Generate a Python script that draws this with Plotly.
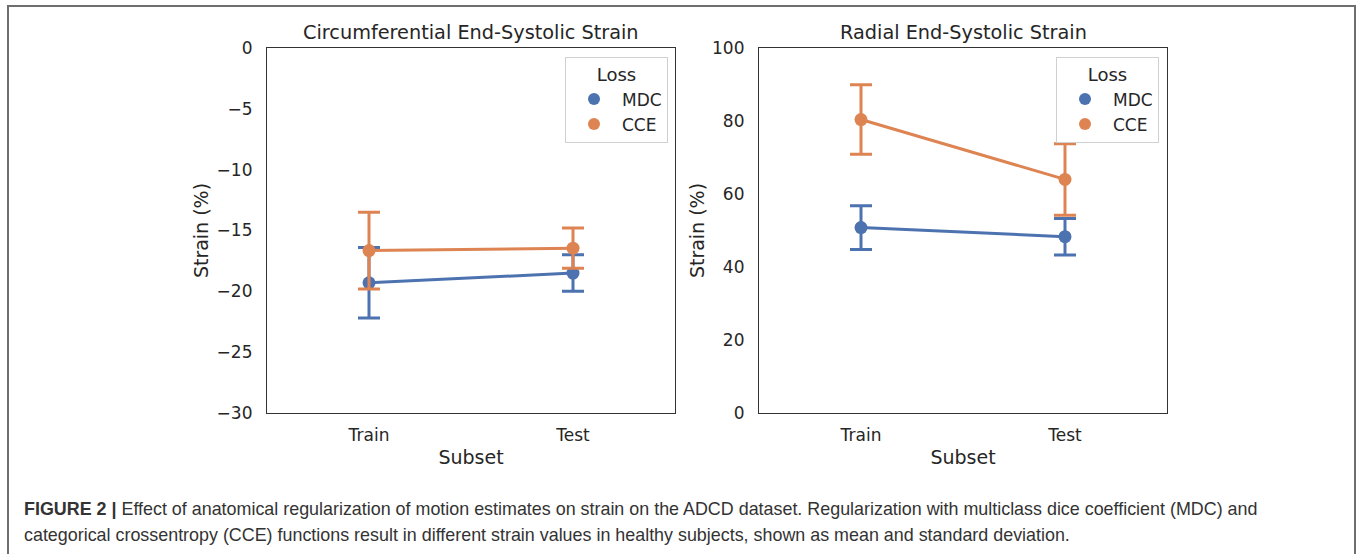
import plotly.graph_objects as go

W, H = 1357, 554

subsets = ["Train", "Test"]
losses = ["MDC", "CCE"]
colors = {"MDC": "#4C72B0", "CCE": "#DD8452"}

# Circumferential end-systolic strain (%): mean, sd
circ_mean = {"MDC": [-19.3, -18.5], "CCE": [-16.65, -16.45]}
circ_sd = {"MDC": [2.9, 1.5], "CCE": [3.15, 1.65]}

# Radial end-systolic strain (%): mean, sd
rad_mean = {"MDC": [50.8, 48.3], "CCE": [80.4, 64.0]}
rad_sd = {"MDC": [6.0, 5.0], "CCE": [9.5, 9.8]}

circ_ticks = [0, -5, -10, -15, -20, -25, -30]
rad_ticks = [0, 20, 40, 60, 80, 100]

FONT = "DejaVu Sans"
TXT = "#262626"

fig = go.Figure()

def add_panel(means, sds, xa, ya, legend):
    for loss in losses:
        fig.add_trace(go.Scatter(
            x=subsets, y=means[loss], mode="lines+markers",
            line=dict(color=colors[loss], width=3),
            marker=dict(color=colors[loss], size=13),
            error_y=dict(type="data", array=sds[loss], visible=True,
                         color=colors[loss], thickness=3, width=11),
            xaxis=xa, yaxis=ya, showlegend=False, hoverinfo="skip"))
    for loss in losses:
        fig.add_trace(go.Scatter(
            x=[None], y=[None], mode="markers", name=loss,
            marker=dict(color=colors[loss], size=13),
            xaxis=xa, yaxis=ya, legend=legend, showlegend=True))

add_panel(circ_mean, circ_sd, "x", "y", "legend")
add_panel(rad_mean, rad_sd, "x2", "y2", "legend2")

y0, y1 = 1 - 413 / H, 1 - 48 / H
axis_common = dict(showline=True, linecolor="#333333", linewidth=1.25, mirror=True,
                   showgrid=False, zeroline=False, ticks="", automargin=False,
                   tickfont=dict(family=FONT, size=17, color=TXT),
                   title_font=dict(family=FONT, size=19, color=TXT))

def legend_cfg(xr):
    return dict(x=xr / W, y=1 - 57 / H, xanchor="right", yanchor="top",
                bgcolor="white", bordercolor="#d0d0d0", borderwidth=1,
                font=dict(family=FONT, size=17, color=TXT),
                title=dict(text="Loss", side="top center",
                           font=dict(family=FONT, size=18, color=TXT)),
                itemsizing="constant", itemwidth=46, tracegroupgap=3)

fig.update_layout(
    width=W, height=H,
    margin=dict(l=0, r=0, t=0, b=0, autoexpand=False),
    paper_bgcolor="white", plot_bgcolor="white",
    xaxis=dict(domain=[267 / W, 675 / W], anchor="y", type="category",
               range=[-0.5, 1.5], ticklabelstandoff=6,
               title=dict(text="Subset", standoff=7), **axis_common),
    yaxis=dict(domain=[y0, y1], anchor="x", range=[-30, 0], tickvals=circ_ticks,
               ticklabelstandoff=10,
               title=dict(text="Strain (%)", standoff=2), **axis_common),
    xaxis2=dict(domain=[759 / W, 1167 / W], anchor="y2", type="category",
                range=[-0.5, 1.5], ticklabelstandoff=6,
                title=dict(text="Subset", standoff=7), **axis_common),
    yaxis2=dict(domain=[y0, y1], anchor="x2", range=[0, 100], tickvals=rad_ticks,
                ticklabelstandoff=10,
                title=dict(text="Strain (%)", standoff=2), **axis_common),
    legend=legend_cfg(668),
    legend2=legend_cfg(1159),
)

# panel titles
for xc, t in [((267 + 675) / 2 / W, "Circumferential End-Systolic Strain"),
              ((759 + 1167) / 2 / W, "Radial End-Systolic Strain")]:
    fig.add_annotation(x=xc, y=1 - 33 / H, xref="paper", yref="paper",
                       text=t, showarrow=False, xanchor="center", yanchor="middle",
                       font=dict(family=FONT, size=19.3, color=TXT))

# caption
CAP = "Liberation Sans"
fig.add_annotation(x=22 / W, y=1 - 509 / H, xref="paper", yref="paper",
                   xanchor="left", yanchor="middle", showarrow=False,
                   text="<b>FIGURE 2 |</b> Effect of anatomical regularization of motion estimates on strain on the ADCD dataset. "
                        "Regularization with multiclass dice coefficient (MDC) and",
                   font=dict(family=CAP, size=17.9, color="#333333"))
fig.add_annotation(x=22 / W, y=1 - 535 / H, xref="paper", yref="paper",
                   xanchor="left", yanchor="middle", showarrow=False,
                   text="categorical crossentropy (CCE) functions result in different strain values in healthy subjects, "
                        "shown as mean and standard deviation.",
                   font=dict(family=CAP, size=17.9, color="#333333"))

# outer frame
fig.add_shape(type="rect", xref="paper", yref="paper",
              x0=8 / W, x1=1355 / W, y0=-0.05, y1=1 - 6 / H,
              line=dict(color="#6e6e6e", width=2), fillcolor="rgba(0,0,0,0)")

fig.write_html("out.html")
